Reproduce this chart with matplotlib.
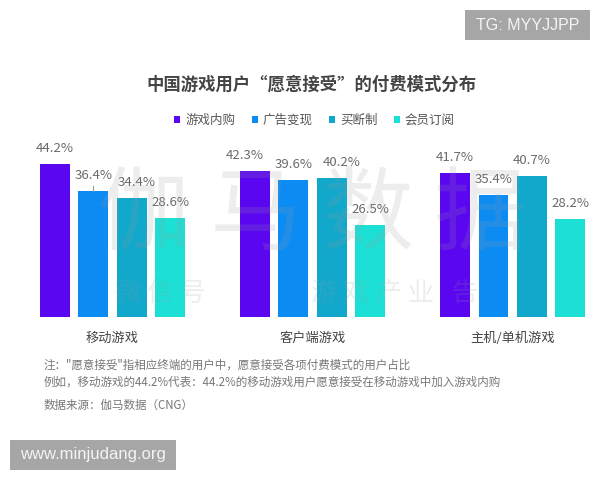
import matplotlib
matplotlib.use("Agg")
import matplotlib.pyplot as plt
import numpy as np
from matplotlib.patches import Rectangle

plt.rcParams['font.family'] = ['Noto Sans CJK SC', 'DejaVu Sans']

categories = ["移动游戏", "客户端游戏", "主机/单机游戏"]
series = ["游戏内购", "广告变现", "买断制", "会员订阅"]
values = {
    "游戏内购": [44.2, 42.3, 41.7],
    "广告变现": [36.4, 39.6, 35.4],
    "买断制": [34.4, 40.2, 40.7],
    "会员订阅": [28.6, 26.5, 28.2],
}
colors = ["#5A06F0", "#0C8CF2", "#12A8CB", "#1CE0D6"]
title = "中国游戏用户“愿意接受”的付费模式分布"
notes = [
    "注：\"愿意接受\"指相应终端的用户中，愿意接受各项付费模式的用户占比",
    "例如，移动游戏的44.2%代表：44.2%的移动游戏用户愿意接受在移动游戏中加入游戏内购",
    "数据来源：伽马数据（CNG）",
]

W, H = 600, 480
fig = plt.figure(figsize=(6, 4.8), dpi=100)
fig.patch.set_facecolor("white")

def fx(px):
    return px / W

def fy(py):
    return 1 - py / H

# axes: baseline at y=316.7px, top at 140px, spanning full width
ax = fig.add_axes([0, fy(316.7), 1, (316.7 - 140) / H])
step_px = 38.33
c0_px = 112.5
ax.set_xlim(-c0_px / step_px, (W - c0_px) / step_px)
ax.set_ylim(0, (316.7 - 140) / 3.45)
ax.axis("off")

group_gap = 5.22
bar_w = 0.78
ns = len(series)
centers = np.arange(len(categories)) * group_gap

# small horizontal nudges (px) for a few labels, as in the reference
nudge = {(1, 0): -10, (1, 2): 10, (0, 2): 5}

for j, s in enumerate(series):
    xs = centers + (j - (ns - 1) / 2)
    ax.bar(xs, values[s], width=bar_w, color=colors[j], label=s, zorder=2)
    for i, (x, v) in enumerate(zip(xs, values[s])):
        dx = nudge.get((i, j), 0) * 72 / 100
        ax.annotate(f"{v}%", (x, v), xytext=(dx, 11.2), textcoords="offset points",
                    ha="center", va="center", fontsize=9.5, color="#6a6a6a", zorder=4)

# tiny leader line for 36.4%
xl = centers[0] + (1 - (ns - 1) / 2)
v = values["广告变现"][0]
ax.plot([xl, xl], [v, v + 1.6], color="#9a9a9a", lw=0.8, zorder=3)

# category labels
for c, lab in zip(centers, categories):
    ax.annotate(lab, (c, 0), xycoords=("data", "axes fraction"), xytext=(0, -15.6),
                textcoords="offset points", ha="center", va="center",
                fontsize=9.5, color="#444444")

# watermark
fig.text(fx(312), fy(217), "伽 马 数 据", fontsize=66, color="#9a9a9a", alpha=0.17,
         ha="center", va="center", zorder=5)
fig.text(fx(160), fy(293), "微 信 号", fontsize=19, color="#9a9a9a", alpha=0.17,
         ha="center", va="center", zorder=5)
fig.text(fx(395), fy(293), "游 戏 产 业   告", fontsize=19, color="#9a9a9a", alpha=0.17,
         ha="center", va="center", zorder=5)

# title
fig.text(fx(312), fy(85), title, fontsize=12.5, fontweight="bold", color="#444444",
         ha="center", va="center")

# legend
fig.legend(loc="center", bbox_to_anchor=(fx(314.5), fy(120)), ncol=4, frameon=False,
           fontsize=9, handlelength=0.48, handleheight=0.48, handletextpad=0.4,
           columnspacing=1.3, labelcolor="#555555", borderpad=0)

# notes
for t, py in zip(notes, [365, 382.7, 405]):
    fig.text(fx(44), fy(py), t, fontsize=8.3, color="#777777", ha="left", va="center")

# overlay boxes
fig.patches.append(Rectangle((fx(465), fy(40)), fx(125), 30 / H, transform=fig.transFigure,
                             facecolor="#a6a6a6", edgecolor="none", zorder=6))
fig.text(fx(527.5), fy(25), "TG: MYYJJPP", fontsize=11.5, color="#f4f4f4",
         family="Liberation Sans", ha="center", va="center", zorder=7)
fig.patches.append(Rectangle((fx(10), fy(470)), fx(166), 30 / H, transform=fig.transFigure,
                             facecolor="#a6a6a6", edgecolor="none", zorder=6))
fig.text(fx(93), fy(455), "www.minjudang.org", fontsize=12, color="#f4f4f4",
         family="Liberation Sans", ha="center", va="center", zorder=7)

fig.savefig("out.png", dpi=100)
